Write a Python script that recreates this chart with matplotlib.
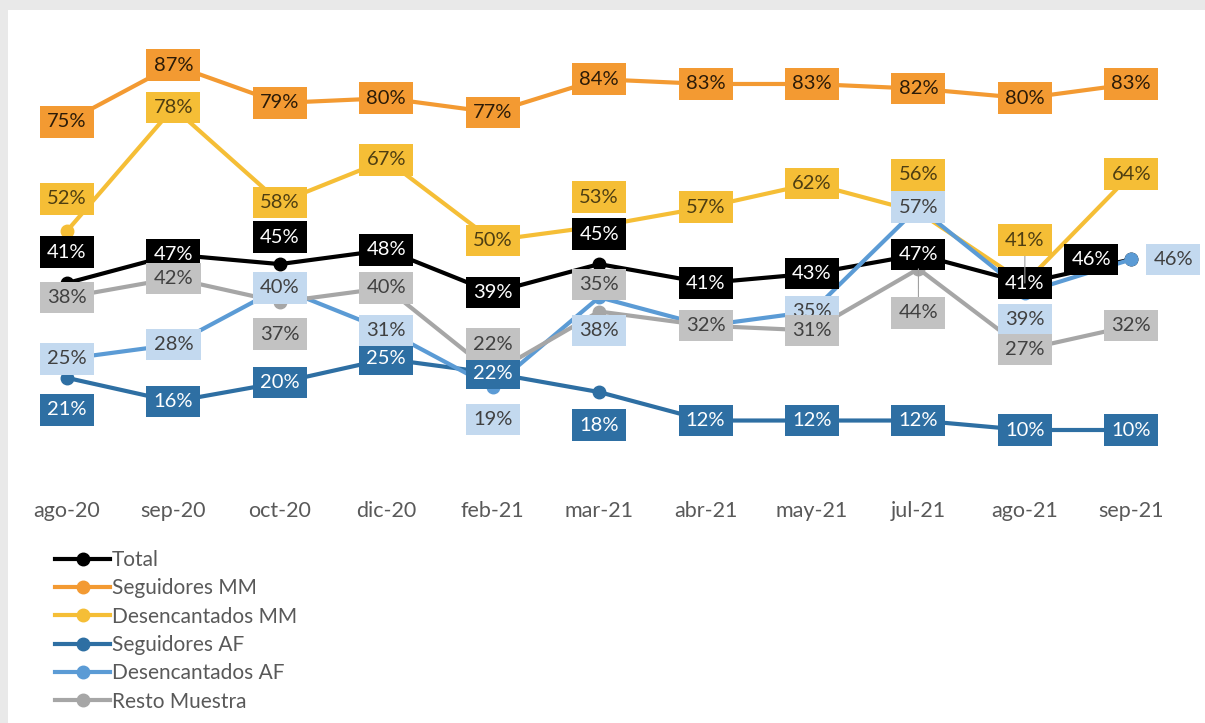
import matplotlib
matplotlib.use("Agg")
import matplotlib.pyplot as plt
from matplotlib.lines import Line2D
from matplotlib.patches import Rectangle

plt.rcParams["font.family"] = ["Lato", "DejaVu Sans"]

meses = ["ago-20", "sep-20", "oct-20", "dic-20", "feb-21", "mar-21",
         "abr-21", "may-21", "jul-21", "ago-21", "sep-21"]

total         = [41, 47, 45, 48, 39, 45, 41, 43, 47, 41, 46]
seguidores_mm = [75, 87, 79, 80, 77, 84, 83, 83, 82, 80, 83]
desenc_mm     = [52, 78, 58, 67, 50, 53, 57, 62, 56, 41, 64]
seguidores_af = [21, 16, 20, 25, 22, 18, 12, 12, 12, 10, 10]
desenc_af     = [25, 28, 40, 31, 19, 38, 32, 35, 57, 39, 46]
resto         = [38, 42, 37, 40, 22, 35, 32, 31, 44, 27, 32]

# labels that were dragged away from their point in the original (px, dy down)
off_total   = {0: (0, -31), 2: (0, -27), 5: (0, -30), 10: (-40, 0)}
off_seg_mm  = {}
off_des_mm  = {0: (0, -32), 5: (0, -29), 8: (0, -37), 9: (0, -43)}
off_seg_af  = {0: (0, 32), 5: (0, 33)}
off_des_af  = {4: (0, 32), 5: (0, 33), 9: (0, 27), 10: (42, 0)}
off_resto   = {2: (0, 32), 4: (0, -29), 5: (0, -27), 8: (0, 44)}

# name, values, line colour, label box, label text, offsets
series = [
    ("Total",             total,         "#000000", "#000000", "#FFFFFF", off_total),
    ("Seguidores MM",     seguidores_mm, "#F39A32", "#F39A32", "#2B1B08", off_seg_mm),
    ("Desencantados MM",  desenc_mm,     "#F5BE36", "#F5BE36", "#4E3E12", off_des_mm),
    ("Seguidores AF",     seguidores_af, "#2E6FA3", "#2E6FA3", "#FFFFFF", off_seg_af),
    ("Desencantados AF",  desenc_af,     "#5B9BD5", "#C3D9EF", "#404040", off_des_af),
    ("Resto Muestra",     resto,         "#A6A6A6", "#C2C2C2", "#404040", off_resto),
]

W, H = 1205, 723
fig = plt.figure(figsize=(W / 100, H / 100), dpi=100, facecolor="#E9E9E9")
fig.add_artist(Rectangle((8 / W, 0), 1, 1 - 10 / H, transform=fig.transFigure,
                         facecolor="white", edgecolor="none", zorder=0))

ax = fig.add_axes([13.8 / W, 1 - 477.4 / H, (1184.5 - 13.8) / W, (477.4 - 3.4) / H])
ax.patch.set_alpha(0)
ax.set_xlim(-0.5, 10.5)
ax.set_ylim(0, 100)

x = list(range(len(meses)))
for k, (name, vals, lc, bc, tc, offs) in enumerate(series):
    ax.plot(x, vals, color=lc, lw=3, marker="o", ms=9, zorder=2 + k,
            solid_joinstyle="round")

for k, (name, vals, lc, bc, tc, offs) in enumerate(series):
    for i, v in enumerate(vals):
        dx, dy = offs.get(i, (0, 0))
        arrow = None
        if abs(dy) > 40:
            arrow = dict(arrowstyle="-", color="#A0A0A0", lw=0.8,
                         shrinkA=0, shrinkB=0)
        ax.annotate(f"{v}%", (i, v), xytext=(dx, -dy), textcoords="offset pixels",
                    ha="center", va="center", fontsize=14.5, color=tc,
                    bbox=dict(boxstyle="square,pad=0.36", fc=bc, ec="none"),
                    arrowprops=arrow, zorder=10 + k)

ax.set_xticks(x)
ax.set_xticklabels(meses, fontsize=15.5, color="#595959")
ax.tick_params(axis="x", length=0, pad=17)
ax.set_yticks([])
for s in ax.spines.values():
    s.set_visible(False)

handles = [Line2D([0], [0], color=lc, lw=3, marker="o", ms=9)
           for _, _, lc, _, _, _ in series]
fig.legend(handles, [s[0] for s in series], loc="upper left",
           bbox_to_anchor=(55 / W, 1 - 550 / H), frameon=False, fontsize=15,
           handlelength=2.64, handletextpad=0.1, labelspacing=0.40,
           borderpad=0, borderaxespad=0, labelcolor="#595959")

fig.savefig("out.png", dpi=100, facecolor=fig.get_facecolor())
